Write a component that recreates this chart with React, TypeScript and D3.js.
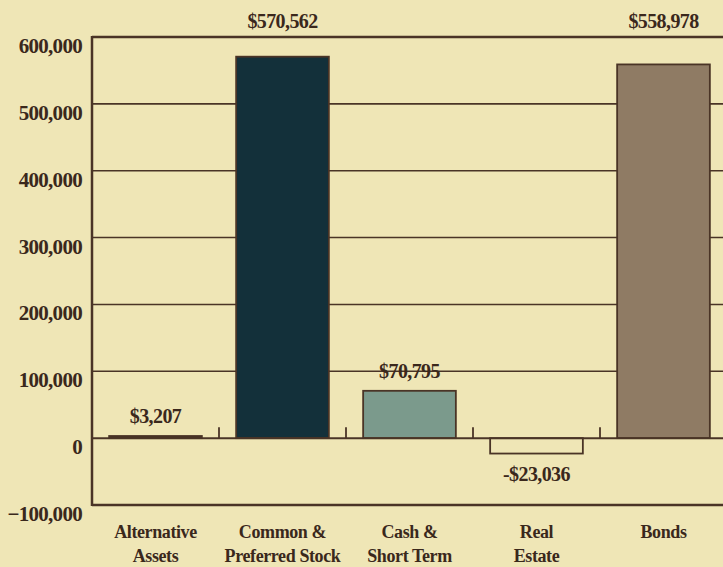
import React from "react";
import * as d3 from "d3";

const categories: string[][] = [
  ["Alternative", "Assets"],
  ["Common &", "Preferred Stock"],
  ["Cash &", "Short Term"],
  ["Real", "Estate"],
  ["Bonds"],
];
const values: number[] = [3207, 570562, 70795, -23036, 558978];
const valueLabels: string[] = ["$3,207", "$570,562", "$70,795", "-$23,036", "$558,978"];
const barColors: string[] = ["#3a2a1e", "#13303a", "#7b9a8c", "#efe6b6", "#8f7b64"];
const yTicks: number[] = [-100000, 0, 100000, 200000, 300000, 400000, 500000, 600000];

const W = 723;
const H = 567;
const BG = "#efe6b6";
const INK = "#4a3426";
const TEXT = "#3a281c";
const FONT = "Liberation Serif, DejaVu Serif, serif";

export default function App() {
  const left = 92;
  const top = 37;
  const bottom = 505;
  const right = 727;

  const y = d3.scaleLinear().domain([-100000, 600000]).range([bottom, top]);
  const x = d3
    .scaleBand<number>()
    .domain(d3.range(values.length))
    .range([left, right])
    .paddingInner(0.27)
    .paddingOuter(0.135);
  const band = (right - left) / values.length;
  const y0 = y(0);

  return (
    <svg
      width={W}
      height={H}
      style={{ position: "absolute", left: 0, top: 0, background: BG, fontFamily: FONT }}
    >
      <rect x={0} y={0} width={W} height={H} fill={BG} />
      {yTicks
        .filter((t) => t !== 0 && t !== -100000 && t !== 600000)
        .map((t) => (
          <line key={t} x1={left} x2={right} y1={y(t)} y2={y(t)} stroke={INK} strokeWidth={1.6} />
        ))}
      {values.map((v, i) => {
        const bx = x(i)!;
        const bw = x.bandwidth();
        const yt = y(Math.max(0, v));
        const yb = y(Math.min(0, v));
        return (
          <rect
            key={i}
            x={bx}
            y={yt}
            width={bw}
            height={Math.max(1.5, yb - yt)}
            fill={barColors[i]}
            stroke={INK}
            strokeWidth={1.8}
          />
        );
      })}
      <line x1={left} x2={right} y1={y0} y2={y0} stroke={INK} strokeWidth={2} />
      {d3.range(1, values.length).map((i) => (
        <line
          key={i}
          x1={left + band * i}
          x2={left + band * i}
          y1={y0}
          y2={y0 - 11}
          stroke={INK}
          strokeWidth={1.8}
        />
      ))}
      <line x1={left} x2={right} y1={top} y2={top} stroke={INK} strokeWidth={2.5} />
      <line x1={left} x2={right} y1={bottom} y2={bottom} stroke={INK} strokeWidth={2.5} />
      <line x1={left} x2={left} y1={top - 1} y2={bottom + 1} stroke={INK} strokeWidth={2.5} />
      {yTicks.map((t) => (
        <text
          key={t}
          x={82}
          y={y(t) + 16}
          textAnchor="end"
          fontSize={21}
          fontWeight="bold"
          letterSpacing={-0.7}
          fill={TEXT}
          style={{ fontFamily: FONT }}
        >
          {d3.format(",")(t)}
        </text>
      ))}
      {values.map((v, i) => {
        const cx = x(i)! + x.bandwidth() / 2;
        const cand = y(v) - 13;
        const ly = v >= 0 ? (cand < top + 30 ? top - 9 : cand) : y(v) + 27;
        return (
          <text
            key={i}
            x={cx}
            y={ly}
            textAnchor="middle"
            fontSize={20}
            fontWeight="bold"
            letterSpacing={-0.6}
            fill={TEXT}
            style={{ fontFamily: FONT }}
          >
            {valueLabels[i]}
          </text>
        );
      })}
      {categories.map((lines, i) => {
        const cx = x(i)! + x.bandwidth() / 2;
        return (
          <text
            key={i}
            x={cx}
            textAnchor="middle"
            fontSize={18}
            fontWeight="bold"
            letterSpacing={-0.4}
            fill={TEXT}
            style={{ fontFamily: FONT }}
          >
            {lines.map((l, j) => (
              <tspan key={j} x={cx} y={538 + j * 24}>
                {l}
              </tspan>
            ))}
          </text>
        );
      })}
    </svg>
  );
}
